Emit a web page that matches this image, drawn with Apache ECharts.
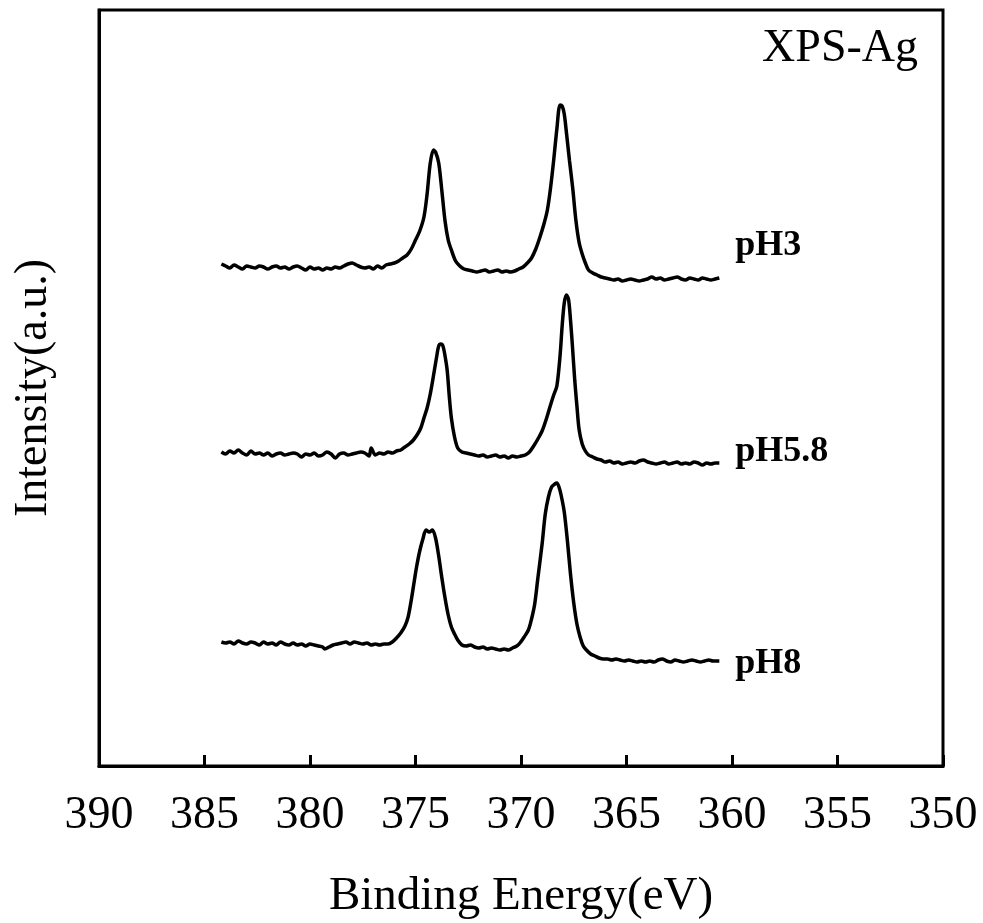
<!DOCTYPE html>
<html>
<head>
<meta charset="utf-8">
<script src="https://cdn.jsdelivr.net/npm/echarts@6/dist/echarts.min.js"></script>
<style>
  html, body { margin: 0; padding: 0; background: #fff; }
  #chart { width: 983px; height: 923px; }
</style>
</head>
<body>
<div id="chart"></div>
<script>
// Ag 3d XPS spectra at three pH values (curves stacked vertically, intensity in a.u.)
const energyTicks = [390, 385, 380, 375, 370, 365, 360, 355, 350];

const energy_pH3 = [384.2,384.0,383.8,383.6,383.4,383.2,383.0,382.8,382.6,382.4,382.2,382.0,381.8,381.6,381.4,381.2,381.0,380.8,380.6,380.4,380.2,380.0,379.8,379.6,379.4,379.2,379.0,378.8,378.6,378.4,378.2,378.0,377.8,377.6,377.4,377.2,377.0,376.8,376.6,376.4,376.2,376.0,375.8,375.6,375.4,375.2,375.0,374.8,374.6,374.45,374.3,374.15,374.05,373.9,373.75,373.6,373.45,373.3,373.1,372.9,372.7,372.5,372.3,372.1,371.9,371.7,371.5,371.3,371.1,370.9,370.7,370.5,370.3,370.1,369.9,369.7,369.5,369.3,369.1,368.9,368.75,368.6,368.45,368.3,368.15,368.05,367.95,367.85,367.7,367.55,367.4,367.25,367.1,366.95,366.8,366.6,366.4,366.2,366.0,365.8,365.6,365.4,365.2,365.0,364.8,364.6,364.4,364.2,364.0,363.8,363.6,363.4,363.2,363.0,362.8,362.6,362.4,362.2,362.0,361.8,361.6,361.4,361.2,361.0,360.8,360.6];
const intensity_pH3 = [502,500,498,501,499,497,500,499,498,500,499,497,499,500,498,499,497,499,500,498,496,499,497,498,496,498,497,499,498,500,502,503,501,499,498,499,497,500,498,501,502,503,505,508,511,517,526,535,549,572,603,616,614,603,575,545,526,516,505,500,497,496,495,494,495,496,494,495,496,494,495,494,495,497,499,503,508,517,529,543,556,578,606,637,661,660,652,634,605,578,546,524,512,503,496,493,491,489,488,487,486,487,485,486,487,486,485,486,487,489,487,488,486,487,488,489,487,486,488,487,486,488,487,486,487,488];

const energy_pH58 = [384.2,384.0,383.8,383.6,383.4,383.2,383.0,382.8,382.6,382.4,382.2,382.0,381.8,381.6,381.4,381.2,381.0,380.8,380.6,380.4,380.2,380.0,379.8,379.6,379.4,379.2,379.0,378.8,378.6,378.4,378.2,378.0,377.8,377.6,377.4,377.2,377.1,376.9,376.7,376.5,376.3,376.1,375.9,375.7,375.5,375.3,375.1,374.9,374.75,374.6,374.45,374.3,374.15,374.0,373.9,373.8,373.7,373.6,373.5,373.4,373.3,373.15,373.0,372.8,372.6,372.4,372.2,372.0,371.8,371.6,371.4,371.2,371.0,370.8,370.6,370.4,370.2,370.0,369.8,369.6,369.4,369.2,369.0,368.8,368.6,368.45,368.3,368.15,368.05,367.95,367.85,367.75,367.65,367.55,367.45,367.35,367.25,367.1,366.95,366.8,366.6,366.4,366.2,366.0,365.8,365.6,365.4,365.2,365.0,364.8,364.6,364.4,364.2,364.0,363.8,363.6,363.4,363.2,363.0,362.8,362.6,362.4,362.2,362.0,361.8,361.6,361.4,361.2,361.0,360.8,360.6];
const intensity_pH58 = [314,312,315,313,316,313,311,315,312,313,311,313,310,312,313,311,312,313,312,309,312,311,313,310,311,314,312,308,312,313,311,312,313,314,313,310,318,311,313,312,314,313,315,316,319,322,326,332,338,348,358,372,390,409,420,422,420,410,396,370,348,329,318,314,313,312,311,310,311,309,310,311,309,310,308,310,309,310,311,314,320,327,335,347,361,371,380,410,440,463,471,467,445,416,385,360,337,322,315,311,309,307,306,304,305,303,304,302,303,304,303,305,306,304,303,302,303,304,302,303,304,302,303,302,304,303,301,303,302,303,303];

const energy_pH8 = [384.2,384.0,383.8,383.6,383.4,383.2,383.0,382.8,382.6,382.4,382.2,382.0,381.8,381.6,381.4,381.2,381.0,380.8,380.6,380.4,380.2,380.0,379.8,379.6,379.4,379.3,379.1,378.9,378.7,378.5,378.3,378.1,377.9,377.7,377.5,377.3,377.1,376.9,376.7,376.5,376.3,376.1,375.9,375.7,375.5,375.35,375.2,375.05,374.95,374.8,374.65,374.5,374.35,374.2,374.05,373.9,373.75,373.6,373.45,373.3,373.15,373.0,372.8,372.6,372.4,372.2,372.0,371.8,371.6,371.4,371.2,371.0,370.8,370.6,370.4,370.2,370.05,369.85,369.65,369.5,369.35,369.2,369.0,368.85,368.7,368.55,368.4,368.3,368.2,368.1,367.95,367.8,367.65,367.5,367.35,367.2,367.05,366.9,366.7,366.5,366.3,366.1,365.9,365.7,365.5,365.3,365.1,364.9,364.7,364.5,364.3,364.1,363.9,363.7,363.5,363.3,363.1,362.9,362.7,362.5,362.3,362.1,361.9,361.7,361.5,361.3,361.1,360.9,360.6];
const intensity_pH8 = [124,123,124,122,125,123,122,124,123,121,124,122,123,121,124,122,121,123,121,122,120,122,121,120,119,117,119,121,122,123,124,122,124,123,122,123,121,122,121,122,122,124,128,133,140,149,166,186,199,215,227,236,234,236,228,210,188,168,151,139,132,126,121,120,121,119,118,119,117,118,117,116,117,116,118,120,123,129,136,147,162,188,222,252,269,279,282,283,279,271,254,225,191,163,142,129,120,116,112,110,108,107,107,106,107,106,105,106,105,104,105,104,105,104,106,107,105,104,106,105,104,105,106,105,104,105,106,105,105];

const seriesNames = ['pH3', 'pH5.8', 'pH8'];
const energySets = [energy_pH3, energy_pH58, energy_pH8];
const intensitySets = [intensity_pH3, intensity_pH58, intensity_pH8];

const FONT = '"Liberation Serif", "Times New Roman", Times, serif';
const chart = echarts.init(document.getElementById('chart'), null, { renderer: 'canvas' });

const series = seriesNames.map((name, k) => ({
  name: name,
  type: 'line',
  data: energySets[k].map((e, i) => [e, intensitySets[k][i]]),
  showSymbol: false,
  smooth: 0.3,
  lineStyle: { color: '#000', width: 3.5 },
  silent: true,
  animation: false
}));

chart.setOption({
  animation: false,
  backgroundColor: '#fff',
  grid: {
    left: 99, right: 40, top: 10, bottom: 157,
    containLabel: false,
    outerBoundsMode: 'none',
    show: true, borderColor: '#000', borderWidth: 3, backgroundColor: 'transparent'
  },
  xAxis: {
    type: 'value',
    inverse: true,
    min: 350, max: 390, interval: 5,
    name: 'Binding Energy(eV)',
    nameLocation: 'middle',
    nameGap: 107,
    nameTextStyle: { fontFamily: FONT, fontSize: 47, color: '#000' },
    axisLine: { show: true, lineStyle: { color: '#000', width: 3 } },
    axisTick: { show: true, inside: true, length: 11, lineStyle: { color: '#000', width: 3 } },
    axisLabel: {
      fontFamily: FONT, fontSize: 46, color: '#000', margin: 27,
      formatter: v => energyTicks.includes(v) ? String(v) : ''
    },
    splitLine: { show: false }
  },
  yAxis: {
    type: 'value',
    min: 0, max: 756,
    name: 'Intensity(a.u.)',
    nameLocation: 'middle',
    nameGap: 42,
    nameTextStyle: { fontFamily: FONT, fontSize: 46, color: '#000' },
    axisLine: { show: true, lineStyle: { color: '#000', width: 3 } },
    axisTick: { show: false },
    axisLabel: { show: false },
    splitLine: { show: false }
  },
  series: series
});

// Text annotations: figure tag and curve labels anchored beside each curve's end
const labelOffsets = [[16, -32], [16, -11], [16, 3]];
const graphics = [{
  type: 'text',
  right: 983 - 918,
  top: 26,
  style: { text: 'XPS-Ag', font: '46px ' + FONT, fill: '#000' }
}];
seriesNames.forEach((name, k) => {
  const en = energySets[k], it = intensitySets[k];
  const p = chart.convertToPixel({ gridIndex: 0 }, [en[en.length - 1], it[it.length - 1]]);
  graphics.push({
    type: 'text',
    x: p[0] + labelOffsets[k][0],
    y: p[1] + labelOffsets[k][1],
    style: {
      text: name, font: 'bold 36px ' + FONT, fill: '#000',
      textAlign: 'left', textVerticalAlign: 'middle'
    }
  });
});
chart.setOption({ graphic: graphics });
</script>
</body>
</html>
